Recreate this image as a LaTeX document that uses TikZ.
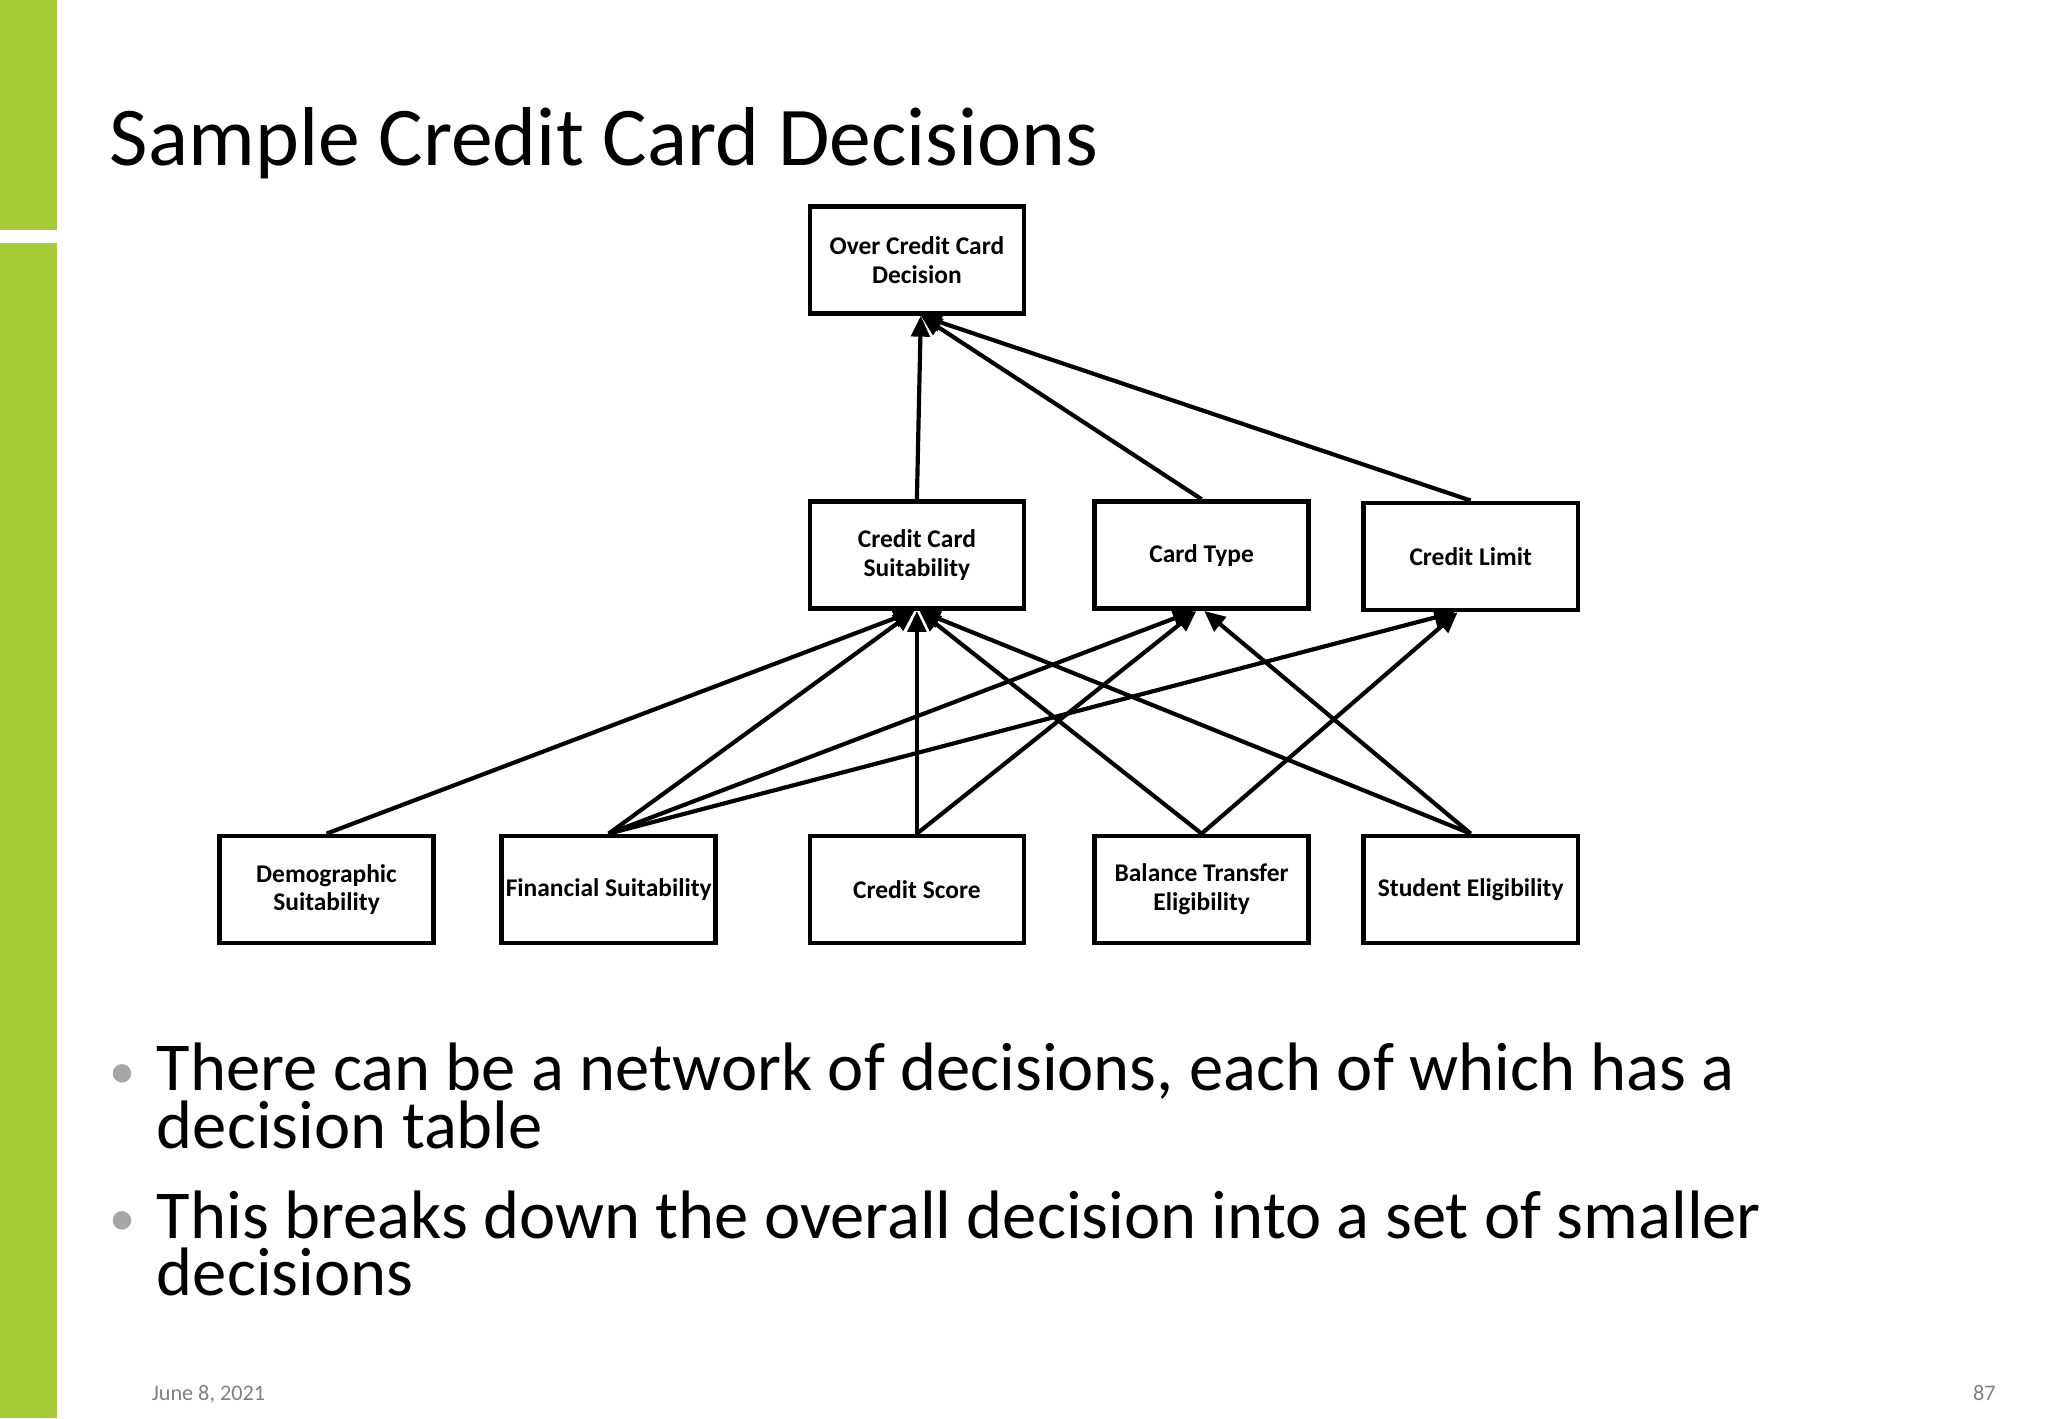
\documentclass[tikz,border=0pt]{standalone}
\usepackage{fontspec}
\setmainfont{Carlito}
\usetikzlibrary{arrows.meta}
\definecolor{bar}{HTML}{A5CB39}
\begin{document}
\begin{tikzpicture}[x=1pt,y=-1pt,
 box/.style={draw,line width=3.5pt,minimum width=164pt,minimum height=82pt,inner sep=0pt,align=center,font=\fontsize{19.5}{22}\selectfont\bfseries},
 arr/.style={line width=3.2pt,-{Triangle[length=16pt,width=14pt]}}]
\useasboundingbox (0,0) rectangle (1568,1086);
\fill[bar] (0,0) rectangle (44,176);
\fill[bar] (0,186) rectangle (44,1086);
\node[anchor=base west,inner sep=0pt,font=\fontsize{64}{60}\selectfont] (title) at (84,127) {Sample Credit Card Decisions};
\node[box] (top) at (702,199) {Over Credit Card\\Decision};
\node[box] (ccs) at (702,425) {Credit Card\\Suitability};
\node[box] (ct) at (920,425) {Card Type};
\node[box] (cl) at (1126,426) {Credit Limit};
\node[box] (demo) at (250,681) {Demographic\\Suitability};
\node[box] (fin) at (466,681) {Financial Suitability};
\node[box] (cs) at (702,681) {Credit Score};
\node[box] (bt) at (920,681) {Balance Transfer\\Eligibility};
\node[box] (se) at (1126,681) {Student Eligibility};
\draw[arr] (ccs.north) -- ([xshift=3pt]top.south);
\draw[arr] (ct.north) -- ([xshift=3pt]top.south);
\draw[arr] (cl.north) -- ([xshift=3pt]top.south);
\draw[arr] (demo.north) -- ([xshift=-2pt]ccs.south);
\draw[arr] (fin.north) -- ([xshift=-2pt]ccs.south);
\draw[arr] (cs.north) -- (ccs.south);
\draw[arr] (bt.north) -- ([xshift=2pt]ccs.south);
\draw[arr] (se.north) -- ([xshift=2pt]ccs.south);
\draw[arr] (fin.north) -- ([xshift=-6pt]ct.south);
\draw[arr] (cs.north) -- ([xshift=-4pt]ct.south);
\draw[arr] (se.north) -- ([xshift=2pt]ct.south);
\draw[arr] (fin.north) -- ([xshift=-12pt]cl.south);
\draw[arr] (bt.north) -- ([xshift=-10pt]cl.south);
\begin{scope}[every node/.style={anchor=base west,inner sep=0pt,font=\fontsize{52.5}{45}\selectfont}]
\node[text=gray!70] (b1) at (84,833) {\fontsize{40}{30}\selectfont•};
\node (t1) at (120,835) {There can be a network of decisions, each of which has a};
\node (t1b) at (120,879) {decision table};
\node[text=gray!70] (b2) at (84,946) {\fontsize{40}{30}\selectfont•};
\node (t2) at (120,948) {This breaks down the overall decision into a set of smaller};
\node (t2b) at (120,992) {decisions};
\end{scope}
\node[anchor=base west,inner sep=0pt,text=gray,font=\fontsize{17}{15}\selectfont] (date) at (116,1072) {June 8, 2021};
\node[anchor=base east,inner sep=0pt,text=gray,font=\fontsize{17}{15}\selectfont] (pg) at (1528,1072) {87};
\end{tikzpicture}
\end{document}
